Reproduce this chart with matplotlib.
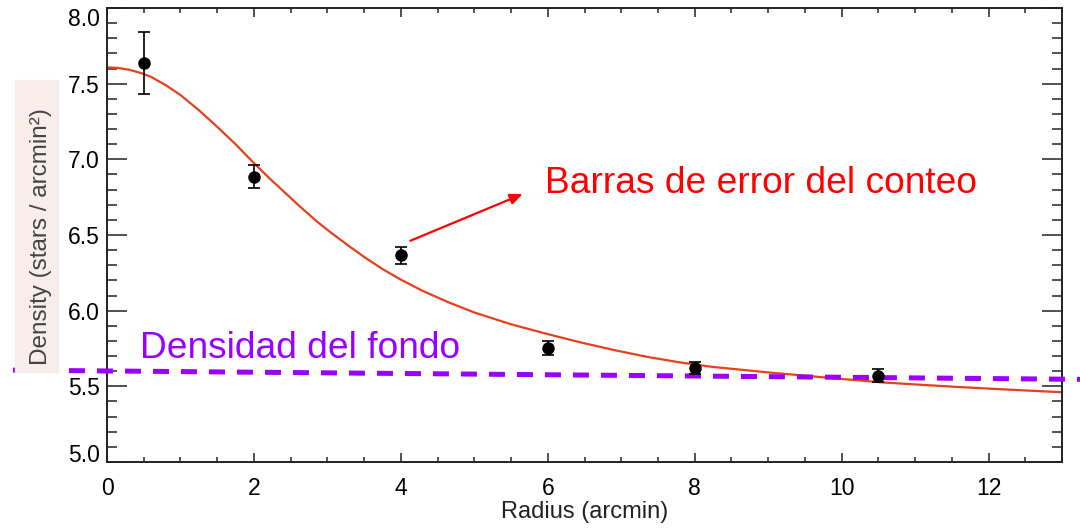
import numpy as np
import matplotlib
matplotlib.use("Agg")
import matplotlib.pyplot as plt
from matplotlib.patches import Rectangle

plt.rcParams['font.family'] = ['Liberation Sans', 'DejaVu Sans']

# measured star counts
radius = [0.5, 2.0, 4.0, 6.0, 8.0, 10.5]
density = [7.638, 6.885, 6.366, 5.754, 5.621, 5.570]
density_err = [0.205, 0.075, 0.057, 0.047, 0.040, 0.042]

# fitted profile
fit_x = [0.0, 0.15, 0.3, 0.45, 0.6, 0.8, 1.0, 1.25, 1.5, 1.75, 2.0, 2.2,
         2.4, 2.6, 2.85, 3.05, 3.3, 3.5, 3.75, 4.0, 4.3, 4.65, 5.0, 5.5,
         6.0, 6.45, 6.9, 7.35, 7.8, 8.25, 9.0, 9.9, 10.55, 11.5, 12.2, 13.0]
fit_y = [7.608, 7.604, 7.592, 7.572, 7.545, 7.490, 7.425, 7.325, 7.215, 7.100,
         6.975, 6.880, 6.790, 6.700, 6.592, 6.515, 6.425, 6.355, 6.275, 6.205,
         6.130, 6.055, 5.988, 5.910, 5.845, 5.790, 5.740, 5.695, 5.658, 5.628,
         5.592, 5.553, 5.526, 5.498, 5.480, 5.461]

# background level line (runs past the frame)
bg_x = [-1.28, 13.3]
bg_y = [5.607, 5.546]

xticks = [0, 2, 4, 6, 8, 10, 12]
yticks = [5.0, 5.5, 6.0, 6.5, 7.0, 7.5, 8.0]

fig = plt.figure(figsize=(10.8, 5.28), dpi=100)
ax = fig.add_axes([107/1080, 1-462/528, 955/1080, 454/528])

# pink box behind the y label
fig.patches.append(Rectangle((15/1080, 1-372/528), 43/1080, 292/528,
                             transform=fig.transFigure, color='#f9edeb', zorder=0))
fig.text(41/1080, 1-237/528, 'Density (stars / arcmin²)', rotation=90,
         ha='center', va='center', fontsize=17.5, color='#444444')

ax.plot(fit_x, fit_y, color='#e6401c', lw=1.6, zorder=2)
ax.plot(bg_x, bg_y, color='#9900ff', lw=3.6, linestyle=(0, (3.2, 2.4)),
        clip_on=False, zorder=3)
ax.errorbar(radius, density, yerr=density_err, fmt='o', color='black',
            markersize=8, elinewidth=1.2, capsize=4.3, capthick=1.2, zorder=4)

ax.set_xlim(0, 13)
ax.set_ylim(5.0, 8.0)
ax.set_xticks(xticks)
ax.set_xticks(np.arange(0, 13.01, 0.5), minor=True)
ax.set_yticks(yticks)
ax.set_yticks(np.arange(5.0, 8.001, 0.1), minor=True)
ax.set_yticklabels(['%.1f' % v for v in yticks])

ax.tick_params(which='both', direction='in', top=True, right=True,
               labelsize=16.5, width=1.1, color='#222222')
ax.tick_params(axis='x', which='major', length=6.5, pad=10.5)
ax.tick_params(axis='x', which='minor', length=3.6)
ax.tick_params(axis='y', which='major', length=14.4, pad=5)
ax.tick_params(axis='y', which='minor', length=7.2)
for s in ax.spines.values():
    s.set_linewidth(1.4)
    s.set_color('#222222')

ylabs = ax.get_yticklabels()
ylabs[0].set_va('baseline')
ylabs[-1].set_va('top')

ax.set_xlabel('Radius (arcmin)', fontsize=17, labelpad=1, color='#222222')

# annotations
ax.annotate('', xy=(5.66, 6.771), xytext=(4.13, 6.462),
            arrowprops=dict(arrowstyle='-|>,head_length=0.75,head_width=0.32',
                            color='#ff0000', lw=1.6, shrinkA=0, shrinkB=0))
ax.text(5.96, 6.777, 'Barras de error del conteo', color='#ff0000',
        fontsize=26.7, ha='left', va='baseline')
ax.text(0.45, 5.685, 'Densidad del fondo', color='#9900ff',
        fontsize=26.7, ha='left', va='baseline')

fig.savefig('out.png', dpi=100)
